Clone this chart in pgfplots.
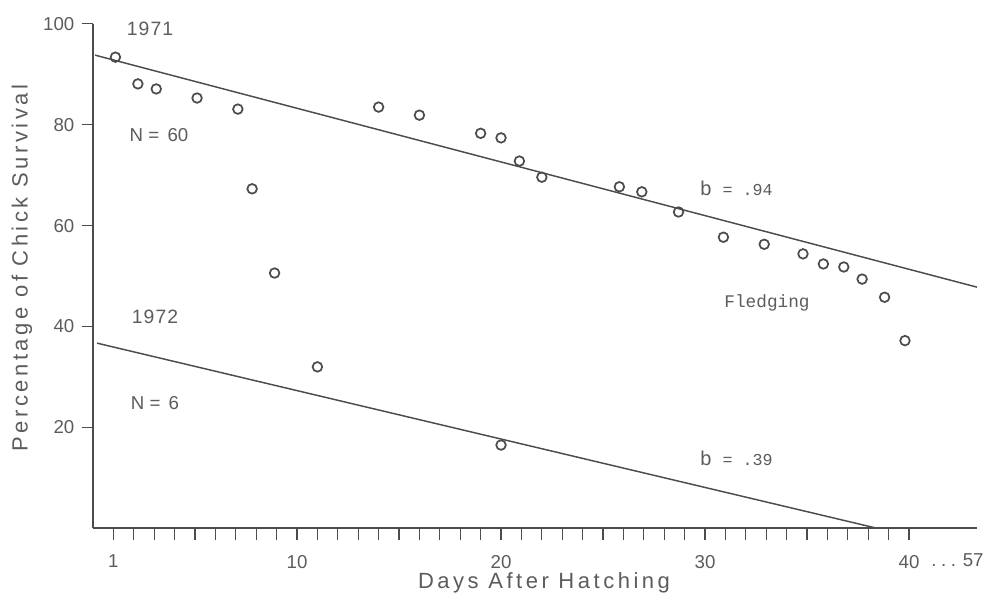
\documentclass[border=0pt]{standalone}
\usepackage{pgfplots}
\pgfplotsset{compat=1.18}
\usepackage{fontspec}
\setmainfont{Liberation Sans}
\newfontfamily\typew{Liberation Mono}
\newfontfamily\spaced[LetterSpace=16]{Liberation Sans}
\newfontfamily\yearfont[LetterSpace=6]{Liberation Sans}
\definecolor{ink}{HTML}{4C4C4C}
\definecolor{txt}{HTML}{5C5C5C}

% survival of chicks, 1971 season
\pgfplotstableread{
day  pct
1.1  93.4
2.2  88.1
3.1  87.1
5.1  85.3
7.1  83.1
7.8  67.3
8.9  50.6
14.0 83.5
16.0 81.9
19.0 78.3
20.0 77.4
20.9 72.8
22.0 69.6
25.8 67.7
26.9 66.7
28.7 62.7
30.9 57.7
32.9 56.3
34.8 54.4
35.8 52.4
36.8 51.8
37.7 49.4
38.8 45.8
39.8 37.2
}\seventyone

% survival of chicks, 1972 season
\pgfplotstableread{
day  pct
11.0 32.0
20.0 16.5
}\seventytwo

\begin{document}
\begin{tikzpicture}[x=0.75pt,y=0.75pt]
\path[use as bounding box] (0,0) rectangle (988,608);
\begin{axis}[
  at={(69.75pt,59.8pt)}, anchor=south west,
  scale only axis, width=663pt, height=378.3pt,
  xmin=0, xmax=43.33, ymin=0, ymax=100,
  axis lines=left,
  axis line style={-, line width=1.8pt, draw=ink},
  tick align=outside,
  major tick length=8.5pt, minor tick length=8.5pt,
  tick style={draw=ink, line width=0.9pt},
  xtick={1,10,20,30,40},
  xticklabels={1,10,20,30,40},
  minor xtick={2,...,9,11,12,...,19,21,22,...,29,31,32,...,39},
  ytick={20,40,60,80,100},
  /pgf/number format/assume math mode=true,
  ticklabel style={font=\fontsize{14}{16}\selectfont, text=txt},
  xticklabel style={yshift=-8pt},
  yticklabel style={xshift=-2pt},
  clip=false,
]
\addplot[only marks, mark=o, mark size=3.6pt,
  mark options={draw=ink, line width=1.3pt}] table[x=day,y=pct] {\seventyone};
\addplot[only marks, mark=o, mark size=3.6pt,
  mark options={draw=ink, line width=1.3pt}] table[x=day,y=pct] {\seventytwo};
% fitted regression lines
\addplot[no marks, draw=ink, line width=1.1pt] coordinates {(0.1,93.8) (43.33,47.8)};
\addplot[no marks, draw=ink, line width=1.1pt] coordinates {(0.2,36.7) (38.43,0)};
\end{axis}
% annotations
\node[text=txt, font=\yearfont\fontsize{14.5}{16}\selectfont] at (150,608-29) {1971};
\node[text=txt, font=\fontsize{14}{16}\selectfont] at (159,608-135) {N = \,60};
\node[text=txt, font=\yearfont\fontsize{14.5}{16}\selectfont] at (155,608-317) {1972};
\node[text=txt, font=\fontsize{14}{16}\selectfont] at (155,608-403) {N = \,6};
\node[text=txt, anchor=west, inner sep=0pt] at (700,608-188) {\fontsize{15}{16}\selectfont b\ \ \typew\fontsize{12.5}{14}\selectfont= .94};
\node[text=txt, anchor=west, inner sep=0pt] at (700,608-458) {\fontsize{15}{16}\selectfont b\ \ \typew\fontsize{12.5}{14}\selectfont= .39};
\node[text=txt, font=\typew\fontsize{13.3}{15}\selectfont] at (767,608-303) {Fledging};
\node[text=txt, anchor=west, inner sep=0pt, font=\fontsize{14}{16}\selectfont] at (931,608-560) {.\hspace{3.5pt}.\hspace{3.5pt}.\hspace{5pt}57};
\node[text=txt, font=\spaced\fontsize{16.5}{18}\selectfont] at (544,608-583) {Days After Hatching};
\node[text=txt, rotate=90, font=\spaced\fontsize{16.5}{18}\selectfont] at (22,608-268) {Percentage of Chick Survival};
\end{tikzpicture}
\end{document}
